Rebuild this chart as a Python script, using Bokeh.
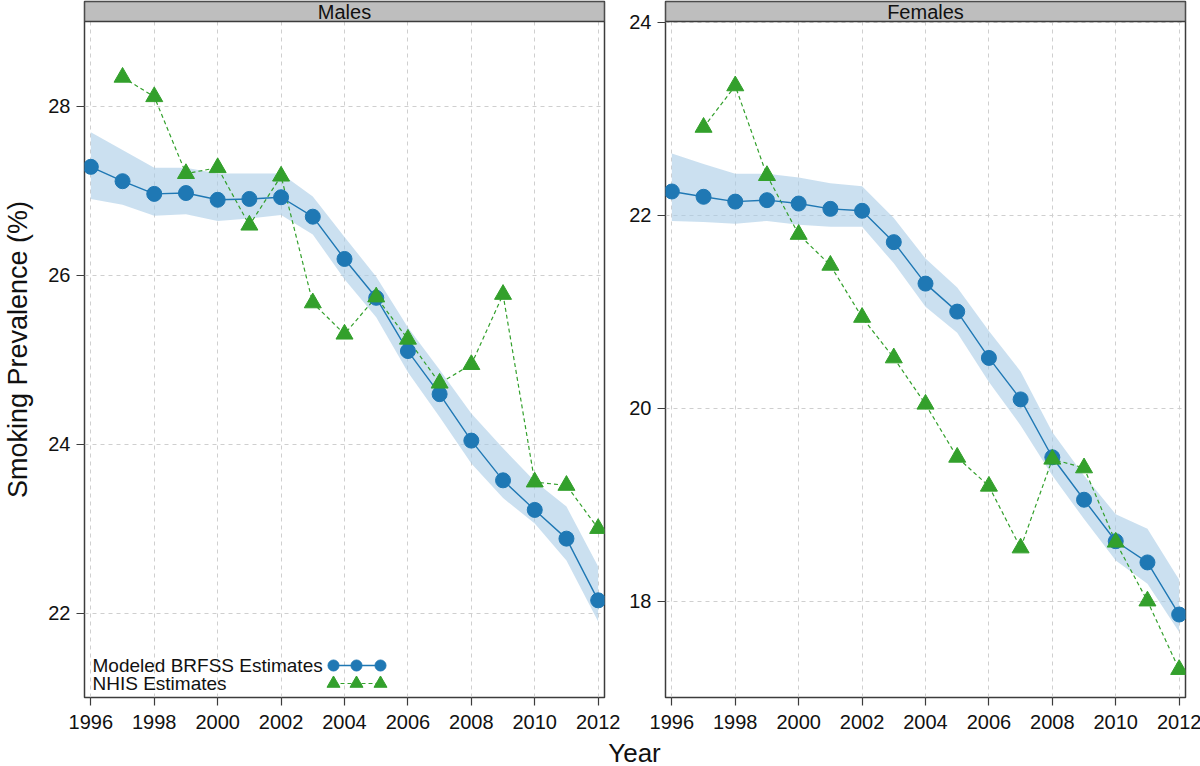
from bokeh.plotting import figure
from bokeh.models import Range1d, FixedTicker, BoxAnnotation, Label
from bokeh.layouts import row, column
from bokeh.embed import file_html
from bokeh.resources import INLINE

# ---------------- data ----------------
years = list(range(1996, 2013))
nhis_years = list(range(1997, 2013))

male_brfss = [27.28, 27.11, 26.96, 26.97, 26.89, 26.90, 26.92, 26.69, 26.19,
              25.73, 25.10, 24.59, 24.04, 23.57, 23.22, 22.88, 22.15]
male_lower = [26.90, 26.83, 26.70, 26.72, 26.64, 26.67, 26.71, 26.48, 25.95,
              25.50, 24.85, 24.32, 23.77, 23.36, 23.06, 22.62, 21.90]
male_upper = [27.69, 27.48, 27.27, 27.27, 27.20, 27.20, 27.20, 26.93, 26.45,
              25.98, 25.38, 24.88, 24.36, 23.95, 23.56, 23.26, 22.55]
male_nhis = [28.34, 28.11, 27.20, 27.27, 26.59, 27.17, 25.67, 25.30, 25.74,
             25.24, 24.72, 24.94, 25.77, 23.55, 23.51, 23.00]

female_brfss = [22.245, 22.19, 22.14, 22.155, 22.12, 22.065, 22.045, 21.72, 21.29,
                21.00, 20.52, 20.09, 19.49, 19.05, 18.62, 18.40, 17.86]
female_lower = [21.94, 21.93, 21.91, 21.94, 21.90, 21.88, 21.88, 21.50, 21.05,
                20.78, 20.27, 19.82, 19.30, 18.85, 18.42, 18.18, 17.68]
female_upper = [22.64, 22.53, 22.43, 22.43, 22.39, 22.33, 22.30, 21.97, 21.55,
                21.25, 20.80, 20.38, 19.75, 19.30, 18.90, 18.75, 18.22]
female_nhis = [22.91, 23.34, 22.41, 21.80, 21.48, 20.94, 20.52, 20.04, 19.49,
               19.19, 18.55, 19.47, 19.38, 18.61, 18.00, 17.29]

x_ticks = list(range(1996, 2013, 2))
male_y_ticks = [22, 24, 26, 28]
female_y_ticks = [18, 20, 22, 24]
x_limits = (1995.8, 2012.2)
male_y_limits = (21.0, 29.0)
female_y_limits = (17.0, 24.007)

legend_labels = ["Modeled BRFSS Estimates", "NHIS Estimates"]
y_title = "Smoking Prevalence (%)"
x_title = "Year"

# ---------------- style ----------------
FONT = "Liberation Sans"
BLUE = "#1F78B4"
GREEN = "#33A02C"
BAND = "#A9CBE6"
FRAME_COL = "#3C3C3C"
GRID_COL = "#CFCFCF"
STRIP_COL = "#BEBEBE"
FRAME_W, PANEL_H, STRIP_H = 520, 676, 20
BOTTOM_BORDER = 36


def make_panel(title, brfss, lower, upper, nhis, y_limits, y_ticks,
               border_left, border_right, with_ylabel=False, with_legend=False):
    ymin, ymax = y_limits
    per_px_y = (ymax - ymin) / PANEL_H
    per_px_x = (x_limits[1] - x_limits[0]) / FRAME_W
    top = ymax + STRIP_H * per_px_y
    p = figure(frame_width=FRAME_W, frame_height=PANEL_H + STRIP_H,
               x_range=Range1d(*x_limits), y_range=Range1d(ymin, top),
               output_backend="svg", toolbar_location=None,
               min_border_left=border_left, min_border_right=border_right,
               min_border_top=1, min_border_bottom=BOTTOM_BORDER,
               outline_line_color=FRAME_COL, outline_line_width=1.5)

    # axes
    p.xaxis.ticker = FixedTicker(ticks=x_ticks)
    p.yaxis.ticker = FixedTicker(ticks=y_ticks)
    for ax in (p.xaxis, p.yaxis):
        ax.axis_line_color = None
        ax.major_tick_out = 8
        ax.major_tick_in = 0
        ax.minor_tick_line_color = None
        ax.major_tick_line_color = FRAME_COL
        ax.major_tick_line_width = 1.2
        ax.major_label_text_font = FONT
        ax.major_label_text_font_size = "20px"
        ax.major_label_text_color = "#111111"
    p.xaxis.major_label_standoff = 9
    p.yaxis.major_label_standoff = 6
    p.yaxis.major_label_orientation = "horizontal"
    if with_ylabel:
        p.yaxis.axis_label = y_title
        p.yaxis.axis_label_text_font = FONT
        p.yaxis.axis_label_text_font_size = "27px"
        p.yaxis.axis_label_text_font_style = "normal"
        p.yaxis.axis_label_text_color = "#111111"
        p.yaxis.axis_label_standoff = 12

    # grid
    p.xgrid.ticker = FixedTicker(ticks=x_ticks)
    p.ygrid.ticker = FixedTicker(ticks=y_ticks)
    p.grid.grid_line_color = GRID_COL
    p.grid.grid_line_dash = "4 4"
    p.grid.grid_line_width = 1

    # data
    p.varea(x=years, y1=lower, y2=upper, fill_color=BAND, fill_alpha=0.6)
    p.line(nhis_years, nhis, line_color=GREEN, line_width=1.2, line_dash="4 3")
    p.line(years, brfss, line_color=BLUE, line_width=1.4)
    p.scatter(years, brfss, size=15, fill_color=BLUE, line_color=BLUE)
    p.scatter(nhis_years, nhis, marker="triangle", size=17,
              fill_color=GREEN, line_color=GREEN)

    # strip
    p.add_layout(BoxAnnotation(bottom=ymax, fill_color=STRIP_COL, fill_alpha=1,
                               line_color=FRAME_COL, line_width=1.5, line_alpha=1))
    p.add_layout(Label(x=(x_limits[0] + x_limits[1]) / 2, y=ymax + STRIP_H / 2 * per_px_y,
                       text=title, text_align="center", text_baseline="middle",
                       text_font=FONT, text_font_size="20px", text_color="#111111"))

    if with_legend:
        def lx(px):
            return x_limits[0] + px * per_px_x

        def ly(px):
            return ymax - px * per_px_y

        row_y = [ly(644), ly(662)]
        mx = [lx(249), lx(272), lx(296)]
        for lab, yy in zip(legend_labels, row_y):
            p.add_layout(Label(x=lx(8), y=yy, text=lab, text_align="left",
                               text_baseline="middle", text_font=FONT,
                               text_font_size="19px", text_color="#111111"))
        p.line(mx, [row_y[0]] * 3, line_color=BLUE, line_width=1.4)
        p.scatter(mx, [row_y[0]] * 3, size=11, fill_color=BLUE, line_color=BLUE)
        p.line(mx, [row_y[1]] * 3, line_color=GREEN, line_width=1.2, line_dash="4 3")
        p.scatter(mx, [row_y[1]] * 3, marker="triangle", size=13,
                  fill_color=GREEN, line_color=GREEN)
    return p


p_m = make_panel("Males", male_brfss, male_lower, male_upper, male_nhis,
                 male_y_limits, male_y_ticks, 83, 20, with_ylabel=True, with_legend=True)
p_f = make_panel("Females", female_brfss, female_lower, female_upper, female_nhis,
                 female_y_limits, female_y_ticks, 41, 16)

# bottom strip holding the shared x-axis title
title_h = 766 - (1 + PANEL_H + STRIP_H + BOTTOM_BORDER)
p_x = figure(frame_width=1200, frame_height=title_h, x_range=Range1d(0, 1200),
             y_range=Range1d(0, title_h), output_backend="svg", toolbar_location=None,
             x_axis_type=None, y_axis_type=None, min_border=0,
             outline_line_color=None)
p_x.grid.visible = False
p_x.add_layout(Label(x=634, y=title_h - 19, text=x_title, text_align="center",
                     text_baseline="middle", text_font=FONT,
                     text_font_size="26px", text_color="#111111"))

layout = column(row(p_m, p_f), p_x)
open("out.html", "w").write(file_html(layout, INLINE))
